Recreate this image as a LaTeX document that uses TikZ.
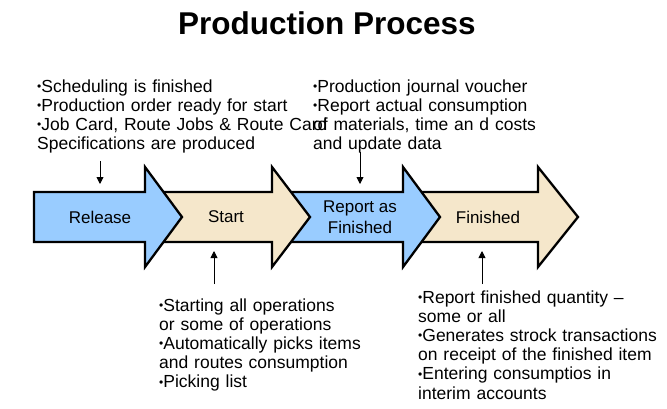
\documentclass[tikz,border=0pt]{standalone}
\usepackage{fontspec}
\setmainfont{Liberation Sans}
\usetikzlibrary{arrows.meta}
\definecolor{stageblue}{RGB}{153,204,255}
\definecolor{stagesand}{RGB}{245,231,203}
\newcommand\stagearrow[4]{%
  \draw[stagebox, fill=#4] (#1,192) -- (#2,192) -- (#2,167) -- (#3,217)
    -- (#2,267) -- (#2,242) -- (#1,242) -- cycle;}
\newcommand\bdot{{\fontsize{12}{12}\selectfont\raisebox{.12em}{•}}}
\begin{document}
\begin{tikzpicture}[x=1pt,y=-1pt,
  note/.style={anchor=base west, inner sep=0pt, text width=300pt, align=left,
    font=\fontsize{17.5}{19.2}\selectfont},
  stagetext/.style={inner sep=0pt, align=center,
    font=\fontsize{17}{20.5}\selectfont},
  stagebox/.style={draw=black, line width=2.3pt, line join=miter},
  pointer/.style={-{Triangle[length=7pt,width=7pt]}, line width=0.9pt}]
\useasboundingbox (0,0) rectangle (667,408);
\fill[white] (0,0) rectangle (667,408);

% title
\node[font=\fontsize{31.5}{34}\selectfont\bfseries, anchor=base] (title) at (327,34) {Production Process};

% process stages, drawn back to front so each head overlaps the next body
\stagearrow{410}{538}{578}{stagesand}
\stagearrow{280}{403}{440}{stageblue}
\stagearrow{150}{272}{310}{stagesand}
\stagearrow{34}{145}{182}{stageblue}

\node[stagetext] (release) at (100,217) {Release};
\node[stagetext] (start) at (226,217) {Start};
\node[stagetext] (report) at (360,217) {Report as\\Finished};
\node[stagetext] (finished) at (488,217) {Finished};

% notes
\node[note] (n1) at (37,92) {\bdot Scheduling is finished\\
  \bdot Production order ready for start\\
  \bdot Job Card, Route Jobs \& Route Card\\
  Specifications are produced};
\node[note] (n2) at (313,92) {\bdot Production journal voucher\\
  \bdot Report actual consumption\\
  of materials, time an d costs\\
  and update data};
\node[note] (n3) at (159,311) {\bdot Starting all operations\\
  or some of operations\\
  \bdot Automatically picks items\\
  and routes consumption\\
  \bdot Picking list};
\node[note] (n4) at (418,303) {\bdot Report finished quantity --\\
  some or all\\
  \bdot Generates strock transactions\\
  on receipt of the finished item\\
  \bdot Entering consumptios in\\
  interim accounts};

% pointers from the notes to the stages
\coordinate (r1) at (100,161);
\coordinate (r2) at (100,184);
\coordinate (f1) at (360,152);
\coordinate (f2) at (360,184);
\coordinate (s1) at (214,284);
\coordinate (s2) at (214,251);
\coordinate (d1) at (482,284);
\coordinate (d2) at (482,251);
\draw[pointer] (r1) -- (r2);
\draw[pointer] (f1) -- (f2);
\draw[pointer] (s1) -- (s2);
\draw[pointer] (d1) -- (d2);
\end{tikzpicture}
\end{document}
